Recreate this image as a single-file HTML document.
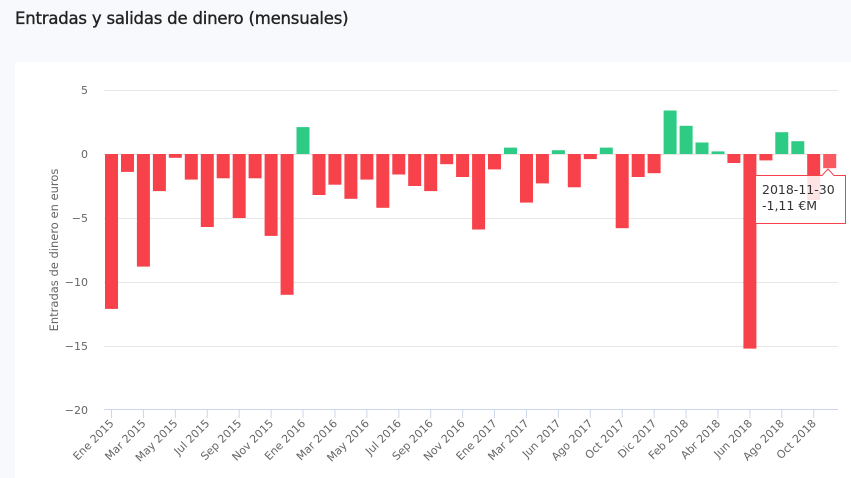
<!DOCTYPE html>
<html><head><meta charset="utf-8">
<style>
html,body{margin:0;padding:0;width:851px;height:478px;overflow:hidden;background:#f8f9fd;font-family:"Liberation Sans",sans-serif;}
.title{position:absolute;left:15px;top:9px;font-size:16.5px;color:#222;font-family:"DejaVu Sans","Liberation Sans",sans-serif;letter-spacing:-0.2px;-webkit-text-stroke:0.35px #222;}
.card{position:absolute;left:15px;top:62px;width:836px;height:416px;background:#fff;}
svg{position:absolute;left:0;top:0;}
</style></head><body>
<div class="title">Entradas y salidas de dinero (mensuales)</div>
<div class="card"></div>
<svg id="s" width="851" height="478" font-family="DejaVu Sans, Liberation Sans, sans-serif"></svg>
<script>
var v=[-12.1,-1.4,-8.8,-2.9,-0.3,-2.0,-5.7,-1.9,-5.0,-1.9,-6.4,-11.0,2.1,-3.2,-2.4,-3.5,-2.0,-4.2,-1.6,-2.5,-2.9,-0.8,-1.8,-5.9,-1.2,0.5,-3.8,-2.3,0.3,-2.6,-0.4,0.5,-5.8,-1.8,-1.5,3.4,2.2,0.9,0.2,-0.7,-15.2,-0.5,1.7,1.0,-3.6,-1.11];
var labs=["Ene 2015","Mar 2015","May 2015","Jul 2015","Sep 2015","Nov 2015","Ene 2016","Mar 2016","May 2016","Jul 2016","Sep 2016","Nov 2016","Ene 2017","Mar 2017","Jun 2017","Ago 2017","Oct 2017","Dic 2017","Feb 2018","Abr 2018","Jun 2018","Ago 2018","Oct 2018"];
var h='';
var z=154,u=12.8;
[5,0,-5,-10,-15].forEach(function(t){var y=z-t*u;h+='<line x1="104" x2="838" y1="'+(y+0.5)+'" y2="'+(y+0.5)+'" stroke="#e6e6e6"/>';});
[5,0,-5,-10,-15,-20].forEach(function(t){var y=z-t*u;h+='<text x="88" y="'+(y+4)+'" text-anchor="end" font-size="11" fill="#666">'+(t<0?'−'+(-t):t)+'</text>';});
h+='<line x1="104" x2="838" y1="409.5" y2="409.5" stroke="#ccd6eb"/>';
h+='<text transform="translate(58,250) rotate(-90)" text-anchor="middle" font-size="11.5" fill="#666">Entradas de dinero en euros</text>';
for(var i=0;i<v.length;i++){var x=105+i*15.96,val=v[i];var y=val>=0?z-val*u:z,hh=Math.abs(val)*u;
var c=val>=0?'#2ecb84':'#f7424b';if(i==45)c='#f95a61';
h+='<rect x="'+x.toFixed(1)+'" y="'+y.toFixed(1)+'" width="13" height="'+hh.toFixed(1)+'" fill="'+c+'"/>';
if(i%2==0){var cx=x+6.5;h+='<line x1="'+cx+'" x2="'+cx+'" y1="409" y2="418" stroke="#ccd6eb"/>';
var lab=labs[i/2];
h+='<text transform="translate('+(cx+3)+',424) rotate(-45)" text-anchor="end" font-size="11" fill="#666">'+lab+'</text>';}}
h+='<path d="M755.5,175.5 H822 L828,169 L834,175.5 H845.5 V223.5 H755.5 Z" fill="rgba(255,255,255,0.85)" stroke="#f7424b" stroke-width="1"/>';
h+='<text x="762" y="194" font-size="12.5" fill="#333">2018-11-30</text>';
h+='<text x="762" y="210" font-size="12.5" fill="#333">-1,11 €M</text>';
document.getElementById('s').innerHTML=h;
</script>
</body></html>
